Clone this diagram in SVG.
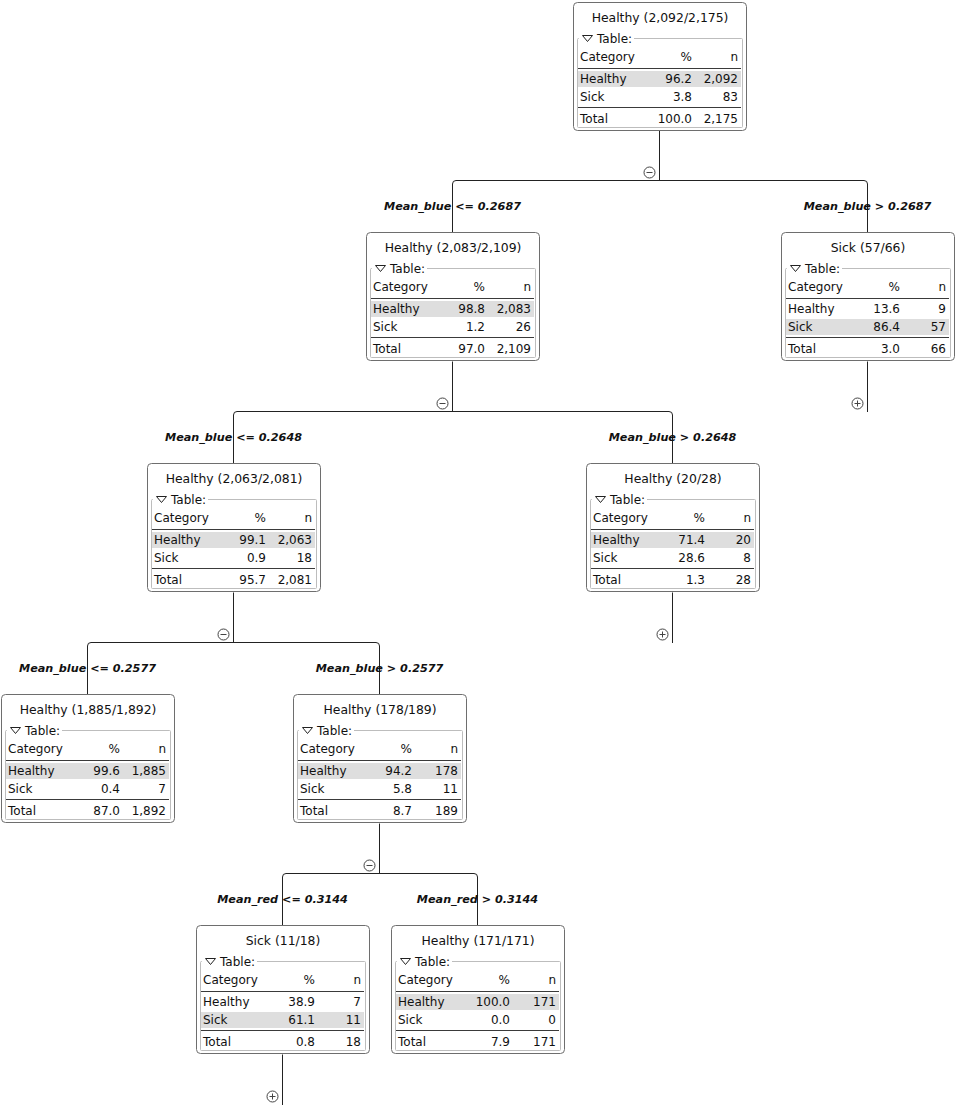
<svg xmlns="http://www.w3.org/2000/svg" width="960" height="1110" viewBox="0 0 960 1110">
<style>
.bg{fill:#fff}
.box{fill:#fff;stroke:#6e6e6e;stroke-width:1}
.fs{fill:none;stroke:#bdbdbd;stroke-width:1}
.leg{fill:#fff}
.hl{fill:#dedede}
.rule{stroke:#3a3a3a;stroke-width:1}
.tri{fill:none;stroke:#222;stroke-width:1}
text{font-family:"DejaVu Sans","Liberation Sans",sans-serif;font-size:12px;fill:#111}
.ttl{text-anchor:middle;font-size:12.4px}
.r{text-anchor:end}
.lbl{font-weight:bold;font-style:italic;font-size:11.2px;text-anchor:middle}
.conn{fill:none;stroke:#222;stroke-width:1}
.tog{fill:#fff;stroke:#444;stroke-width:1}
.sgn{stroke:#444;stroke-width:1}
</style>
<defs>
<g id="frame">
<rect class="box" x="0.5" y="0.5" width="173" height="128" rx="4"/>
<rect class="fs" x="4.5" y="36.5" width="165" height="89" rx="1"/>
<rect class="leg" x="6" y="30" width="55" height="12"/>
<polygon class="tri" points="9.5,33.5 19.5,33.5 14.5,39.5"/>
<text x="24" y="41">Table:</text>
<text x="7" y="59">Category</text>
<text class="r" x="119" y="59">%</text>
<text class="r" x="165" y="59">n</text>
<line class="rule" x1="5" y1="66.5" x2="168" y2="66.5"/>
<line class="rule" x1="5" y1="105.5" x2="168" y2="105.5"/>
<text x="7" y="81">Healthy</text>
<text x="7" y="99">Sick</text>
<text x="7" y="121">Total</text>
</g>
<rect id="hl1" class="hl" x="5" y="69" width="163" height="16"/>
<rect id="hl2" class="hl" x="5" y="87" width="163" height="16"/>
<g id="minus"><circle class="tog" r="5.5"/><line class="sgn" x1="-3" y1="0" x2="3" y2="0"/></g>
<g id="plus"><circle class="tog" r="5.5"/><line class="sgn" x1="-3" y1="0" x2="3" y2="0"/><line class="sgn" x1="0" y1="-3" x2="0" y2="3"/></g>
</defs>
<rect class="bg" x="0" y="0" width="960" height="1110"/>

<g id="connectors">
<path class="conn" d="M659.5,130.5 V180.5"/>
<path class="conn" d="M452.5,232 V184 Q452.5,180.5 456,180.5 H864 Q867.5,180.5 867.5,184 V232"/>
<path class="conn" d="M867.5,361.5 V412"/>
<path class="conn" d="M452.5,361.5 V411.5"/>
<path class="conn" d="M233.5,463 V415 Q233.5,411.5 237,411.5 H669 Q672.5,411.5 672.5,415 V463"/>
<path class="conn" d="M672.5,592.5 V643"/>
<path class="conn" d="M233.5,592.5 V642.5"/>
<path class="conn" d="M87.5,694 V646 Q87.5,642.5 91,642.5 H376 Q379.5,642.5 379.5,646 V694"/>
<path class="conn" d="M379.5,823.5 V873.5"/>
<path class="conn" d="M282.5,925 V877 Q282.5,873.5 286,873.5 H474 Q477.5,873.5 477.5,877 V925"/>
<path class="conn" d="M282.5,1054.5 V1105"/>
<use href="#minus" x="649.5" y="172.5"/>
<use href="#minus" x="442.5" y="403.5"/>
<use href="#minus" x="223.5" y="634.5"/>
<use href="#minus" x="369.5" y="865.5"/>
<use href="#plus" x="857.5" y="403.5"/>
<use href="#plus" x="662.5" y="634.5"/>
<use href="#plus" x="272.5" y="1096.5"/>
<text class="lbl" x="452.5" y="210">Mean_blue &lt;= 0.2687</text>
<text class="lbl" x="867.5" y="210">Mean_blue &gt; 0.2687</text>
<text class="lbl" x="233.5" y="441">Mean_blue &lt;= 0.2648</text>
<text class="lbl" x="672.5" y="441">Mean_blue &gt; 0.2648</text>
<text class="lbl" x="87.5" y="672">Mean_blue &lt;= 0.2577</text>
<text class="lbl" x="379.5" y="672">Mean_blue &gt; 0.2577</text>
<text class="lbl" x="282.5" y="903">Mean_red &lt;= 0.3144</text>
<text class="lbl" x="477.5" y="903">Mean_red &gt; 0.3144</text>
</g>

<g id="node-root" transform="translate(573,2)">
<use href="#frame"/><use href="#hl1"/>
<text x="7" y="81">Healthy</text>
<text class="ttl" x="87" y="20">Healthy (2,092/2,175)</text>
<text class="r" x="119" y="81">96.2</text><text class="r" x="165" y="81">2,092</text>
<text class="r" x="119" y="99">3.8</text><text class="r" x="165" y="99">83</text>
<text class="r" x="119" y="121">100.0</text><text class="r" x="165" y="121">2,175</text>
</g>

<g id="node-2" transform="translate(366,232)">
<use href="#frame"/><use href="#hl1"/>
<text x="7" y="81">Healthy</text>
<text class="ttl" x="87" y="20">Healthy (2,083/2,109)</text>
<text class="r" x="119" y="81">98.8</text><text class="r" x="165" y="81">2,083</text>
<text class="r" x="119" y="99">1.2</text><text class="r" x="165" y="99">26</text>
<text class="r" x="119" y="121">97.0</text><text class="r" x="165" y="121">2,109</text>
</g>

<g id="node-3" transform="translate(781,232)">
<use href="#frame"/><use href="#hl2"/>
<text x="7" y="99">Sick</text>
<text class="ttl" x="87" y="20">Sick (57/66)</text>
<text class="r" x="119" y="81">13.6</text><text class="r" x="165" y="81">9</text>
<text class="r" x="119" y="99">86.4</text><text class="r" x="165" y="99">57</text>
<text class="r" x="119" y="121">3.0</text><text class="r" x="165" y="121">66</text>
</g>

<g id="node-4" transform="translate(147,463)">
<use href="#frame"/><use href="#hl1"/>
<text x="7" y="81">Healthy</text>
<text class="ttl" x="87" y="20">Healthy (2,063/2,081)</text>
<text class="r" x="119" y="81">99.1</text><text class="r" x="165" y="81">2,063</text>
<text class="r" x="119" y="99">0.9</text><text class="r" x="165" y="99">18</text>
<text class="r" x="119" y="121">95.7</text><text class="r" x="165" y="121">2,081</text>
</g>

<g id="node-5" transform="translate(586,463)">
<use href="#frame"/><use href="#hl1"/>
<text x="7" y="81">Healthy</text>
<text class="ttl" x="87" y="20">Healthy (20/28)</text>
<text class="r" x="119" y="81">71.4</text><text class="r" x="165" y="81">20</text>
<text class="r" x="119" y="99">28.6</text><text class="r" x="165" y="99">8</text>
<text class="r" x="119" y="121">1.3</text><text class="r" x="165" y="121">28</text>
</g>

<g id="node-6" transform="translate(1,694)">
<use href="#frame"/><use href="#hl1"/>
<text x="7" y="81">Healthy</text>
<text class="ttl" x="87" y="20">Healthy (1,885/1,892)</text>
<text class="r" x="119" y="81">99.6</text><text class="r" x="165" y="81">1,885</text>
<text class="r" x="119" y="99">0.4</text><text class="r" x="165" y="99">7</text>
<text class="r" x="119" y="121">87.0</text><text class="r" x="165" y="121">1,892</text>
</g>

<g id="node-7" transform="translate(293,694)">
<use href="#frame"/><use href="#hl1"/>
<text x="7" y="81">Healthy</text>
<text class="ttl" x="87" y="20">Healthy (178/189)</text>
<text class="r" x="119" y="81">94.2</text><text class="r" x="165" y="81">178</text>
<text class="r" x="119" y="99">5.8</text><text class="r" x="165" y="99">11</text>
<text class="r" x="119" y="121">8.7</text><text class="r" x="165" y="121">189</text>
</g>

<g id="node-8" transform="translate(196,925)">
<use href="#frame"/><use href="#hl2"/>
<text x="7" y="99">Sick</text>
<text class="ttl" x="87" y="20">Sick (11/18)</text>
<text class="r" x="119" y="81">38.9</text><text class="r" x="165" y="81">7</text>
<text class="r" x="119" y="99">61.1</text><text class="r" x="165" y="99">11</text>
<text class="r" x="119" y="121">0.8</text><text class="r" x="165" y="121">18</text>
</g>

<g id="node-9" transform="translate(391,925)">
<use href="#frame"/><use href="#hl1"/>
<text x="7" y="81">Healthy</text>
<text class="ttl" x="87" y="20">Healthy (171/171)</text>
<text class="r" x="119" y="81">100.0</text><text class="r" x="165" y="81">171</text>
<text class="r" x="119" y="99">0.0</text><text class="r" x="165" y="99">0</text>
<text class="r" x="119" y="121">7.9</text><text class="r" x="165" y="121">171</text>
</g>
</svg>
